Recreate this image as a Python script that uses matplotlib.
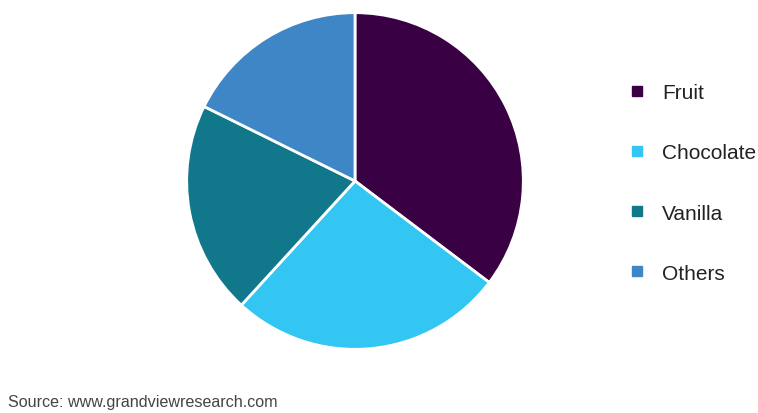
import matplotlib.pyplot as plt
from matplotlib.lines import Line2D

# segment shares (%)
labels = ['Fruit', 'Chocolate', 'Vanilla', 'Others']
shares = [35.3, 26.5, 20.5, 17.7]
colors = ['#3a0044', '#33c6f2', '#10788a', '#3f86c6']

plt.rcParams['font.family'] = ['Liberation Sans', 'DejaVu Sans']

fig = plt.figure(figsize=(7.58, 4.14), dpi=100)
ax = fig.add_axes([185/758, 62/414, 340/758, 340/414])
ax.pie(shares, colors=colors, startangle=90, counterclock=False,
       wedgeprops=dict(edgecolor='white', linewidth=2))
ax.set_xlim(-1.01, 1.01)
ax.set_ylim(-1.01, 1.01)
ax.set_aspect('equal')

# legend on the right
handles = [Line2D([], [], marker='s', linestyle='none', markersize=6.5,
                  markerfacecolor=c, markeredgecolor=c) for c in colors]
fig.legend(handles, labels, loc='upper left', bbox_to_anchor=(627/758, 1 - 84/414),
           frameon=False, fontsize=15, labelspacing=1.98, handlelength=0.97,
           handletextpad=0.72, borderaxespad=0, borderpad=0, labelcolor='#222222')

fig.text(8/758, 1 - 407/414, 'Source: www.grandviewresearch.com', fontsize=11.6,
         color='#444444', va='baseline')

fig.savefig('out.png', dpi=100)
